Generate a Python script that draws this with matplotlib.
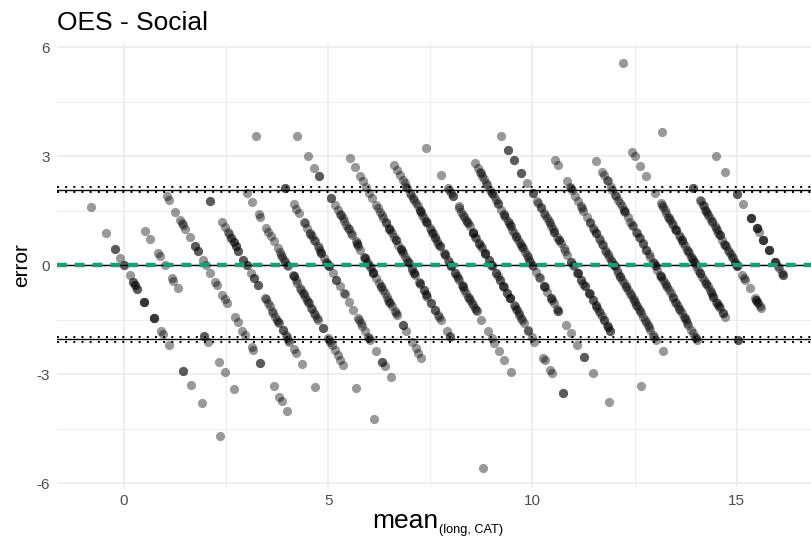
import matplotlib
matplotlib.use("Agg")
import matplotlib.pyplot as plt
from matplotlib.ticker import MultipleLocator

plt.rcParams["font.family"] = ["Liberation Sans", "DejaVu Sans"]
plt.rcParams["axes.unicode_minus"] = False

# long-form score levels; each band in the plot is one long score
long_levels = [0, 1, 2, 3, 4, 5, 6, 7, 8, 9, 10, 11, 12, 13, 14, 15, 16]

diff_long_0 = [1.6, 0.9, 0.45, 0.45, 0.2, 0.0, 0.0, -0.27, -0.45, -0.45, -0.55, -0.55, -0.66, -0.66,
               -1.0, -1.0, -1.0, -1.45, -1.45, -1.45, -1.8, -1.9, -2.2, -2.9, -2.9, -3.3, -3.8, -4.7]
diff_long_1 = [0.95, 0.72, 0.34, 0.26, 0.0, -0.35, -0.42, -0.63, -1.94, -1.94, -2.1, -2.67, -2.94, -3.4]
diff_long_2 = [1.9, 1.8, 1.48, 1.25, 1.16, 1.1, 1.0, 0.78, 0.54, 0.54, 0.4, 0.4, 0.14, 0.0, -0.21,
               -0.45, -0.54, -0.81, -0.93, -1.04, -1.43, -1.56, -1.8, -1.91, -2.25, -2.33, -2.68,
               -2.68, -3.33, -3.61, -3.72, -4.0]
diff_long_3 = [1.78, 1.78, 1.2, 1.05, 0.93, 0.86, 0.74, 0.74, 0.63, 0.63, 0.52, 0.52, 0.4, 0.4, 0.15,
               0.15, 0.0, 0.0, -0.21, -0.35, -0.35, -0.55, -0.55, -0.9, -0.93, -1.04, -1.13, -1.27,
               -1.32, -1.41, -1.5, -1.55, -1.6, -1.78, -1.78, -1.91, -1.96, -2.05, -2.1, -2.31,
               -2.42, -2.72, -3.34]
diff_long_4 = [1.98, 1.75, 1.4, 1.34, 1.03, 0.93, 0.8, 0.66, 0.47, 0.38, 0.29, 0.24, 0.15, 0.1, 0.01,
               -0.03, -0.26, -0.3, -0.3, -0.49, -0.63, -0.67, -0.77, -0.86, -0.95, -1.0, -1.04,
               -1.18, -1.32, -1.36, -1.45, -1.5, -1.73, -1.73, -2.0, -2.05, -2.1, -2.19, -2.33,
               -2.47, -2.6, -2.74, -3.37, -4.24, -0.4, -0.8, -1.2]
diff_long_5 = [3.55, 2.14, 2.14, 1.7, 1.56, 1.44, 1.18, 1.16, 1.04, 0.89, 0.87, 0.7, 0.66, 0.52, 0.47,
               0.34, 0.34, 0.2, 0.1, 0.06, -0.03, -0.03, -0.21, -0.4, -0.58, -0.77, -1.0, -1.22,
               -1.45, -1.5, -1.59, -1.67, -1.82, -1.96, -2.0, -2.05, -2.35, -2.65, -2.65, -2.77,
               -3.08, 0.8, 0.4, 0.0, -0.4, -0.8]
diff_long_6 = [3.55, 3.0, 2.69, 2.45, 2.45, 1.85, 1.85, 1.67, 1.53, 1.39, 1.3, 1.21, 1.12, 1.02, 0.89,
               0.84, 0.66, 0.61, 0.52, 0.43, 0.24, 0.2, 0.1, 0.03, -0.03, -0.08, -0.17, -0.21, -0.35,
               -0.49, -0.58, -0.67, -0.77, -0.86, -0.95, -1.04, -1.13, -1.27, -1.32, -1.36, -1.64,
               -1.64, -1.82, -2.1, -2.28, -2.42, -2.56, -5.57, 1.4, 1.0, 0.6, 0.2, -0.2, -0.6, -1.0]
diff_long_7 = [2.95, 2.7, 2.45, 2.31, 2.17, 1.99, 1.85, 1.67, 1.58, 1.48, 1.39, 1.18, 1.16, 1.02, 0.98,
               0.89, 0.79, 0.7, 0.56, 0.45, 0.45, 0.34, 0.24, 0.15, 0.06, -0.08, -0.12, -0.21, -0.26,
               -0.45, -0.49, -0.67, -0.67, -0.81, -0.86, -1.04, -1.04, -1.22, -1.22, -1.36, -1.41,
               -1.5, -1.82, -1.94, -1.98, 1.3, 1.0, 0.7, 0.4, 0.1, -0.2, -0.5, -0.8]
diff_long_8 = [2.77, 2.63, 2.49, 2.36, 2.26, 2.17, 2.13, 1.99, 1.94, 1.85, 1.8, 1.71, 1.62, 1.53, 1.48,
               1.39, 1.3, 1.21, 1.16, 1.02, 0.98, 0.89, 0.79, 0.75, 0.66, 0.52, 0.52, 0.34, 0.29,
               0.15, 0.1, -0.03, -0.03, -0.21, -0.21, -0.35, -0.4, -0.54, -0.58, -0.67, -0.77,
               -0.86, -0.95, -1.04, -1.09, -1.18, -1.22, -1.27, -1.5, -1.82, -2.0, -2.14, -2.37,
               -2.6, -2.93, 1.5, 1.2, 0.9, 0.6, 0.3, 0.0, -0.3, -0.6, -0.9]
diff_long_9 = [3.23, 2.49, 2.13, 2.08, 1.99, 1.9, 1.9, 1.62, 1.58, 1.48, 1.39, 1.34, 1.25, 1.16, 1.07,
               0.93, 0.89, 0.79, 0.75, 0.61, 0.52, 0.47, 0.34, 0.34, 0.15, 0.15, 0.01, -0.03, -0.21,
               -0.21, -0.4, -0.4, -0.58, -0.58, -0.77, -0.77, -0.9, -0.9, -1.09, -1.13, -1.22, -1.32,
               -1.36, -1.45, -1.59, -1.78, -1.96, -2.1, -2.54, -2.6, -2.88, -2.97, -3.52, -3.52,
               1.2, 0.9, 0.6, 0.3, 0.0, -0.3, -0.6, -0.9, -1.2, -1.5, -1.8]
diff_long_10 = [2.82, 2.68, 2.58, 2.54, 2.45, 2.37, 2.26, 2.22, 2.08, 1.99, 1.9, 1.8, 1.71, 1.53, 1.39,
                1.34, 1.21, 1.16, 1.07, 0.98, 0.89, 0.79, 0.7, 0.61, 0.56, 0.47, 0.38, 0.29, 0.24,
                0.15, 0.1, 0.01, -0.03, -0.17, -0.31, -0.35, -0.58, -0.58, -0.72, -0.9, -0.95,
                -1.04, -1.27, -1.27, -1.64, -1.87, -2.19, -2.51, -2.51, -2.97, -3.75,
                2.0, 1.7, 1.4, 1.1, 0.8, 0.5, -0.6, -0.9, -1.2]
diff_long_11 = [3.55, 3.18, 3.18, 2.89, 2.89, 2.54, 2.54, 2.26, 1.99, 1.99, 1.76, 1.71, 1.58, 1.44,
                1.39, 1.21, 1.16, 1.07, 0.93, 0.93, 0.79, 0.7, 0.61, 0.47, 0.29, 0.1, 0.01, -0.03,
                -0.21, -0.21, -0.4, -0.4, -0.58, -0.58, -0.77, -0.77, -0.95, -0.95, -1.13, -1.18,
                -1.27, -1.32, -1.5, -1.5, -1.64, -1.69, -1.82, -1.82, -3.32,
                1.6, 1.3, 1.0, 0.7, 0.4, 0.1, -0.2, -0.5, -0.8, -1.1, -1.4, -1.7]
diff_long_12 = [2.91, 2.77, 2.31, 2.17, 2.13, 2.08, 1.9, 1.76, 1.62, 1.58, 1.34, 1.16, 1.02, 0.98,
                0.89, 0.75, 0.7, 0.56, 0.43, 0.38, 0.24, 0.15, 0.1, 0.01, -0.03, -0.12, -0.21, -0.31,
                -0.4, -0.49, -0.58, -0.67, -0.77, -0.81, -0.95, -1.0, -1.09, -1.13, -1.27, -1.32,
                -1.41, -1.55, -1.64, -1.69, -1.78, -1.91, -1.96, -2.05, -2.37,
                1.5, 1.2, 0.9, 0.6, 0.3, 0.0, -0.3, -0.6, -0.9, -1.2, -1.5]
diff_long_13 = [2.88, 2.58, 2.49, 2.36, 2.31, 2.17, 2.08, 1.94, 1.9, 1.71, 1.62, 1.53, 1.48, 1.34,
                1.12, 1.07, 0.93, 0.79, 0.75, 0.61, 0.43, 0.43, 0.24, 0.1, 0.06, -0.03, -0.12, -0.26,
                -0.31, -0.4, -0.49, -0.54, -0.67, -0.77, -0.86, -1.0, -1.04, -1.13, -1.22, -1.32,
                -1.41, -1.45, -1.59, -1.64, -1.78, -1.87, -1.96, -2.0, -2.05,
                1.8, 1.5, 1.2, 0.9, 0.6, 0.3, 0.0, -0.3, -0.6, -0.9, -1.2, -1.5]
diff_long_14 = [3.13, 3.0, 2.74, 2.45, 1.99, 1.71, 1.67, 1.53, 1.44, 1.34, 1.25, 1.16, 1.12, 0.98,
                0.98, 0.84, 0.79, 0.7, 0.61, 0.52, 0.43, 0.34, 0.24, 0.2, 0.15, 0.06, -0.03, -0.12,
                -0.21, -0.31, -0.4, -0.49, -0.58, -0.67, -0.72, -0.86, -0.86, -1.0, -1.04, -1.13,
                -1.18, -1.32, -1.32, -1.41, -2.05, -2.05,
                1.6, 1.3, 1.0, 0.7, 0.4, 0.1, -0.2, -0.5, -0.8, -1.1]
diff_long_15 = [5.57, 3.67, 2.13, 2.13, 1.8, 1.76, 1.67, 1.62, 1.53, 1.44, 1.39, 1.3, 1.21, 1.07,
                1.02, 0.98, 0.84, 0.84, 0.7, 0.56, 0.52, 0.43, 0.38, 0.24, 0.2, 0.1, 0.06, -0.03,
                -0.03, -0.26, -0.35, -0.4, -0.63, -0.9, -0.95, -0.95, -1.0, -1.04, -1.13, -1.18,
                1.5, 1.2, 0.9, 0.6, 0.3, 0.0]
diff_long_16 = [3.0, 2.58, 1.97, 1.97, 1.69, 1.3, 1.3, 1.3, 1.02, 1.02, 1.02, 0.93, 0.7, 0.7, 0.7,
                0.41, 0.41, 0.41, 0.1, 0.1, 0.1, -0.03, -0.08, -0.21, -0.26, -0.26]

# agreement statistics
bias = 0.02
loa_upper = 2.08
loa_lower = -2.04
loa_ci = 0.07

x_ticks = [0, 5, 10, 15]
y_ticks = [-6, -3, 0, 3, 6]

diffs_by_long = [diff_long_0, diff_long_1, diff_long_2, diff_long_3, diff_long_4, diff_long_5,
                 diff_long_6, diff_long_7, diff_long_8, diff_long_9, diff_long_10, diff_long_11,
                 diff_long_12, diff_long_13, diff_long_14, diff_long_15, diff_long_16]

means, errors = [], []
for level, diffs in zip(long_levels, diffs_by_long):
    for d in diffs:
        cat = level - d
        means.append((level + cat) / 2)
        errors.append(level - cat)

fig = plt.figure(figsize=(8.11, 5.42), dpi=100)
ax = fig.add_axes([0.0703, 0.1015, 0.9297, 0.8192])

ax.scatter(means, errors, s=44, color="black", alpha=0.4, linewidths=0, zorder=2)

ax.axhline(bias, color="black", lw=1.0, zorder=3)
for y in (loa_upper, loa_lower):
    ax.axhline(y, color="black", lw=1.0, zorder=3)
    ax.axhline(y + loa_ci, color="black", lw=1.4, dashes=(1, 3.2), zorder=3)
    ax.axhline(y - loa_ci, color="black", lw=1.4, dashes=(1, 3.2), zorder=3)
ax.axhline(0, color="#1B9E77", lw=3.2, dashes=(2.2, 1.8), zorder=4)

ax.set_xlim(-1.64, 16.82)
ax.set_ylim(-6.1, 6.12)
ax.set_xticks(x_ticks)
ax.set_yticks(y_ticks)
ax.xaxis.set_minor_locator(MultipleLocator(2.5))
ax.yaxis.set_minor_locator(MultipleLocator(1.5))
ax.grid(which="major", color="#EBEBEB", lw=1.1, zorder=0)
ax.grid(which="minor", color="#EBEBEB", lw=0.6, zorder=0)
ax.set_axisbelow(True)
ax.tick_params(which="both", length=0, labelsize=11, labelcolor="#4D4D4D", pad=5)
for s in ax.spines.values():
    s.set_visible(False)

# x title: "mean" with a smaller subscript, as in the original plotmath label
fig.text(438 / 811, 1 - 528 / 542, "mean", fontsize=19, ha="right", va="baseline")
fig.text(439 / 811, 1 - 533 / 542, "(long, CAT)", fontsize=9.2, ha="left", va="baseline")
ax.set_ylabel("error", fontsize=15, labelpad=4)
fig.text(0.0703, 0.945, "OES - Social", fontsize=19, ha="left", va="baseline")

fig.savefig("out.png", dpi=100)
